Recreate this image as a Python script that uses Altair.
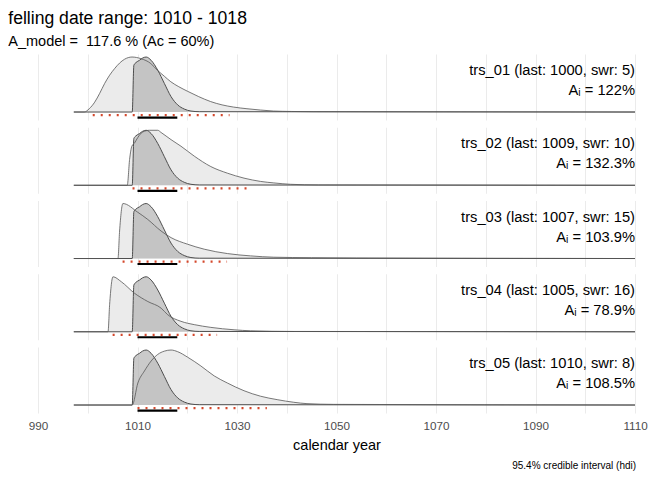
import altair as alt
import pandas as pd

panels = ["trs_01", "trs_02", "trs_03", "trs_04", "trs_05"]
last_ring = [1000, 1009, 1007, 1005, 1010]
swr = [5, 10, 15, 16, 8]
agreement = ["122%", "132.3%", "103.9%", "78.9%", "108.5%"]

range_start = 997.2
range_end = 1110

# individual felling-date densities (scaled to max = 1)
yrs_01 = [999.3, 1000.3, 1001.4, 1002.4, 1003.4, 1004.4, 1005.4, 1006.4, 1007.4, 1008.9, 1010.7,
          1012.7, 1014.0, 1015.4, 1016.7, 1018.3, 1020.0, 1022.3, 1024.7, 1027.0, 1029.3, 1032.0,
          1034.7, 1037.3, 1041.0, 1045.3]
den_01 = [0, 0.06, 0.18, 0.34, 0.52, 0.67, 0.79, 0.89, 0.96, 1.0, 0.97,
          0.88, 0.76, 0.65, 0.55, 0.46, 0.38, 0.28, 0.19, 0.13, 0.09, 0.06,
          0.036, 0.018, 0.01, 0.006]
yrs_02 = [1007.94, 1008.41, 1008.87, 1009.41, 1010.07, 1011.07, 1012.41, 1014.07, 1014.74, 1016.74,
          1018.74, 1021.41, 1024.74, 1028.07, 1031.41, 1034.74, 1037.41, 1040.74, 1046.4]
den_02 = [0, 0.47, 0.71, 0.77, 0.87, 0.97, 1.0, 1.0, 0.96, 0.83,
          0.71, 0.53, 0.34, 0.22, 0.13, 0.07, 0.043, 0.018, 0.006]
yrs_03 = [1006.07, 1006.4, 1007.07, 1010.07, 1012.07, 1014.74, 1016.74, 1020.07, 1023.41, 1028.07,
          1032.74, 1037.41, 1045.0, 1054.07]
den_03 = [0, 0.5, 1.0, 0.84, 0.71, 0.5, 0.38, 0.26, 0.17, 0.09,
          0.048, 0.024, 0.015, 0.01]
yrs_04 = [1004.07, 1004.4, 1005.07, 1006.74, 1009.41, 1012.07, 1014.74, 1016.07, 1018.74, 1021.41,
          1024.74, 1029.41, 1032.74, 1041.4]
den_04 = [0, 0.5, 1.0, 0.91, 0.70, 0.55, 0.43, 0.31, 0.19, 0.13,
          0.08, 0.036, 0.018, 0.006]
yrs_05 = [1008.94, 1010.07, 1011.4, 1012.74, 1014.07, 1015.4, 1016.74, 1018.07, 1020.07, 1022.74,
          1025.41, 1028.07, 1031.41, 1034.74, 1038.07, 1041.41, 1044.07, 1049.4]
den_05 = [0, 0.40, 0.62, 0.80, 0.92, 0.98, 1.0, 0.97, 0.87, 0.71,
          0.53, 0.40, 0.26, 0.16, 0.098, 0.05, 0.025, 0.012]

# combined model density (same in every panel)
model_yrs = [1008.94, 1009.27, 1009.7, 1010.4, 1011.0, 1011.74, 1012.74, 1014.07, 1015.4, 1016.74,
             1018.07, 1019.4, 1020.74, 1022.4]
model_den = [0, 0.85, 0.9, 0.94, 0.98, 1.0, 0.94, 0.76, 0.52, 0.28,
             0.13, 0.054, 0.018, 0.006]

# 95.4% hdi
hdi_start = [1001, 1009, 1007, 1005, 1010]
hdi_end = [1028.5, 1032, 1028, 1026, 1036]
model_hdi = [1010, 1018]

indiv_yrs = [yrs_01, yrs_02, yrs_03, yrs_04, yrs_05]
indiv_den = [den_01, den_02, den_03, den_04, den_05]

rows = []
for i, p in enumerate(panels):
    ys = [range_start] + indiv_yrs[i] + [range_end]
    ds = [0] + indiv_den[i] + [0]
    for y, d in zip(ys, ds):
        rows.append({"panel": p, "layer": "indiv", "year": y, "dens": d})
    ys = [range_start] + model_yrs + [range_end]
    ds = [0] + model_den + [0]
    for y, d in zip(ys, ds):
        rows.append({"panel": p, "layer": "model", "year": y, "dens": d})
    rows.append({"panel": p, "layer": "hdi_indiv", "year": hdi_start[i], "year_end": hdi_end[i]})
    rows.append({"panel": p, "layer": "hdi_model", "year": model_hdi[0], "year_end": model_hdi[1]})
    rows.append({"panel": p, "layer": "label",
                 "label1": f"{p} (last: {last_ring[i]}, swr: {swr[i]})",
                 "label2": f"A\u1d62 = {agreement[i]}"})
df = pd.DataFrame(rows)

W = 597
H = 66
yscale = alt.Scale(domain=[-0.145, 1.055], nice=False, zero=False)
xscale = alt.Scale(domain=[990, 1110], nice=False)
xaxis = alt.Axis(values=list(range(990, 1111, 10)),
                 labelExpr="(datum.value - 990) % 20 == 0 ? datum.label : ''",
                 format="d", title="calendar year", grid=True, gridColor="#ebebeb",
                 gridWidth=1, domain=False, ticks=False, labelFontSize=11.7,
                 labelColor="#4d4d4d", labelPadding=7, labelFlush=False,
                 titleFontSize=14.5, titleFontWeight="normal", titleColor="black",
                 titlePadding=7, labelFont="Liberation Sans", titleFont="Liberation Sans")

base = alt.Chart().properties(width=W, height=H)

light_area = base.mark_area(color="#ebebeb", interpolate="monotone").encode(
    x=alt.X("year:Q", scale=xscale, axis=xaxis),
    y=alt.Y("dens:Q", scale=yscale, axis=None),
).transform_filter(alt.datum.layer == "indiv")

dark_area = base.mark_area(color="#b3b3b3", interpolate="monotone",
                           line={"color": "#4d4d4d", "strokeWidth": 1}).encode(
    x="year:Q", y="dens:Q",
).transform_filter(alt.datum.layer == "model")

light_line = base.mark_line(color="#555555", strokeWidth=0.8, interpolate="monotone").encode(
    x="year:Q", y="dens:Q",
).transform_filter(alt.datum.layer == "indiv")

dots = base.mark_rule(color="#d4472b", strokeWidth=2.2, strokeDash=[2, 6], strokeCap="butt").encode(
    x="year:Q", x2="year_end:Q", y=alt.datum(-0.055),
).transform_filter(alt.datum.layer == "hdi_indiv")

bar = base.mark_rule(color="black", strokeWidth=2.2, strokeCap="butt").encode(
    x="year:Q", x2="year_end:Q", y=alt.datum(-0.1),
).transform_filter(alt.datum.layer == "hdi_model")

txt1 = base.mark_text(align="right", baseline="middle", fontSize=14.7,
                      font="Liberation Sans", color="black").encode(
    text="label1:N", x=alt.value(W), y=alt.value(17),
).transform_filter(alt.datum.layer == "label")

txt2 = base.mark_text(align="right", baseline="middle", fontSize=14.7,
                      font="Liberation Sans", color="black").encode(
    text="label2:N", x=alt.value(W), y=alt.value(37),
).transform_filter(alt.datum.layer == "label")

layered = alt.layer(light_area, dark_area, light_line, dots, bar, txt1, txt2, data=df)

faceted = layered.facet(
    row=alt.Row("panel:N", title=None, sort=panels, header=alt.Header(labels=False)),
    spacing=7.25,
).properties(
    title=alt.TitleParams("95.4% credible interval (hdi)", orient="bottom", anchor="end",
                          fontSize=10, fontWeight="normal", font="Liberation Sans",
                          color="black", offset=9, dx=-11)
)

chart = alt.vconcat(faceted).properties(
    title=alt.TitleParams("felling date range: 1010 - 1018",
                          subtitle="A_model = \u00a0117.6 % (Ac = 60%)",
                          anchor="start", fontSize=17.6, subtitleFontSize=14.5,
                          fontWeight="normal", font="Liberation Sans",
                          subtitleFont="Liberation Sans", color="black",
                          subtitleColor="black", dx=-20, offset=6, subtitlePadding=7),
    padding={"left": 0, "top": 1, "right": 5, "bottom": 5},
).configure(font="Liberation Sans").configure_view(stroke=None)

chart.save("out.html", embed_options={"renderer": "svg", "actions": False})
